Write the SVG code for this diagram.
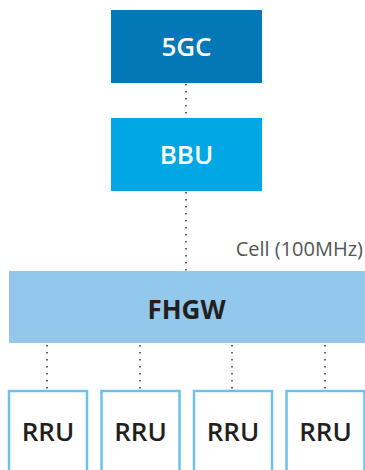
<svg xmlns="http://www.w3.org/2000/svg" width="365" height="470" viewBox="0 0 365 470">
  <style>
    .lbl { font-family: "Open Sans", "Noto Sans", "Liberation Sans", sans-serif; text-anchor: middle; font-size: 26px; font-weight: 600; }
    .white { fill: #ffffff; }
    .dark { fill: #231f20; }
    .bold { font-weight: 700; }
    .rru { fill: #ffffff; stroke: #6ec1ec; stroke-width: 2.5; }
    .link { stroke: #333333; stroke-width: 1.5; stroke-dasharray: 1.5 5.5; fill: none; }
  </style>
  <rect width="365" height="470" fill="#ffffff"/>

  <g id="connectors">
    <line class="link" x1="186" y1="84" x2="186" y2="118"/>
    <line class="link" x1="186" y1="192" x2="186" y2="271"/>
    <line class="link" x1="47" y1="345" x2="47" y2="390"/>
    <line class="link" x1="140" y1="345" x2="140" y2="390"/>
    <line class="link" x1="232" y1="345" x2="232" y2="390"/>
    <line class="link" x1="325" y1="345" x2="325" y2="390"/>
  </g>

  <g id="node-5gc">
    <rect x="111" y="10" width="151" height="73" fill="#0378b7"/>
    <text class="lbl white" x="186.5" y="56">5GC</text>
  </g>

  <g id="node-bbu">
    <rect x="111" y="118" width="151" height="73" fill="#00a7e3"/>
    <text class="lbl white" x="186.5" y="164">BBU</text>
  </g>

  <g id="cell-label">
    <text x="363" y="256" font-family="'Open Sans', 'Noto Sans', 'Liberation Sans', sans-serif" font-size="20" fill="#555555" text-anchor="end">Cell (100MHz)</text>
  </g>

  <g id="node-fhgw">
    <rect x="9" y="271" width="356" height="72" fill="#92c8ec"/>
    <text class="lbl dark bold" x="186.5" y="319">FHGW</text>
  </g>

  <g id="node-rru-1">
    <rect class="rru" x="9" y="391" width="78" height="82"/>
    <text class="lbl dark" x="48" y="441">RRU</text>
  </g>
  <g id="node-rru-2">
    <rect class="rru" x="101.5" y="391" width="78" height="82"/>
    <text class="lbl dark" x="140.5" y="441">RRU</text>
  </g>
  <g id="node-rru-3">
    <rect class="rru" x="194" y="391" width="78" height="82"/>
    <text class="lbl dark" x="233" y="441">RRU</text>
  </g>
  <g id="node-rru-4">
    <rect class="rru" x="286.5" y="391" width="78" height="82"/>
    <text class="lbl dark" x="325.5" y="441">RRU</text>
  </g>
</svg>
